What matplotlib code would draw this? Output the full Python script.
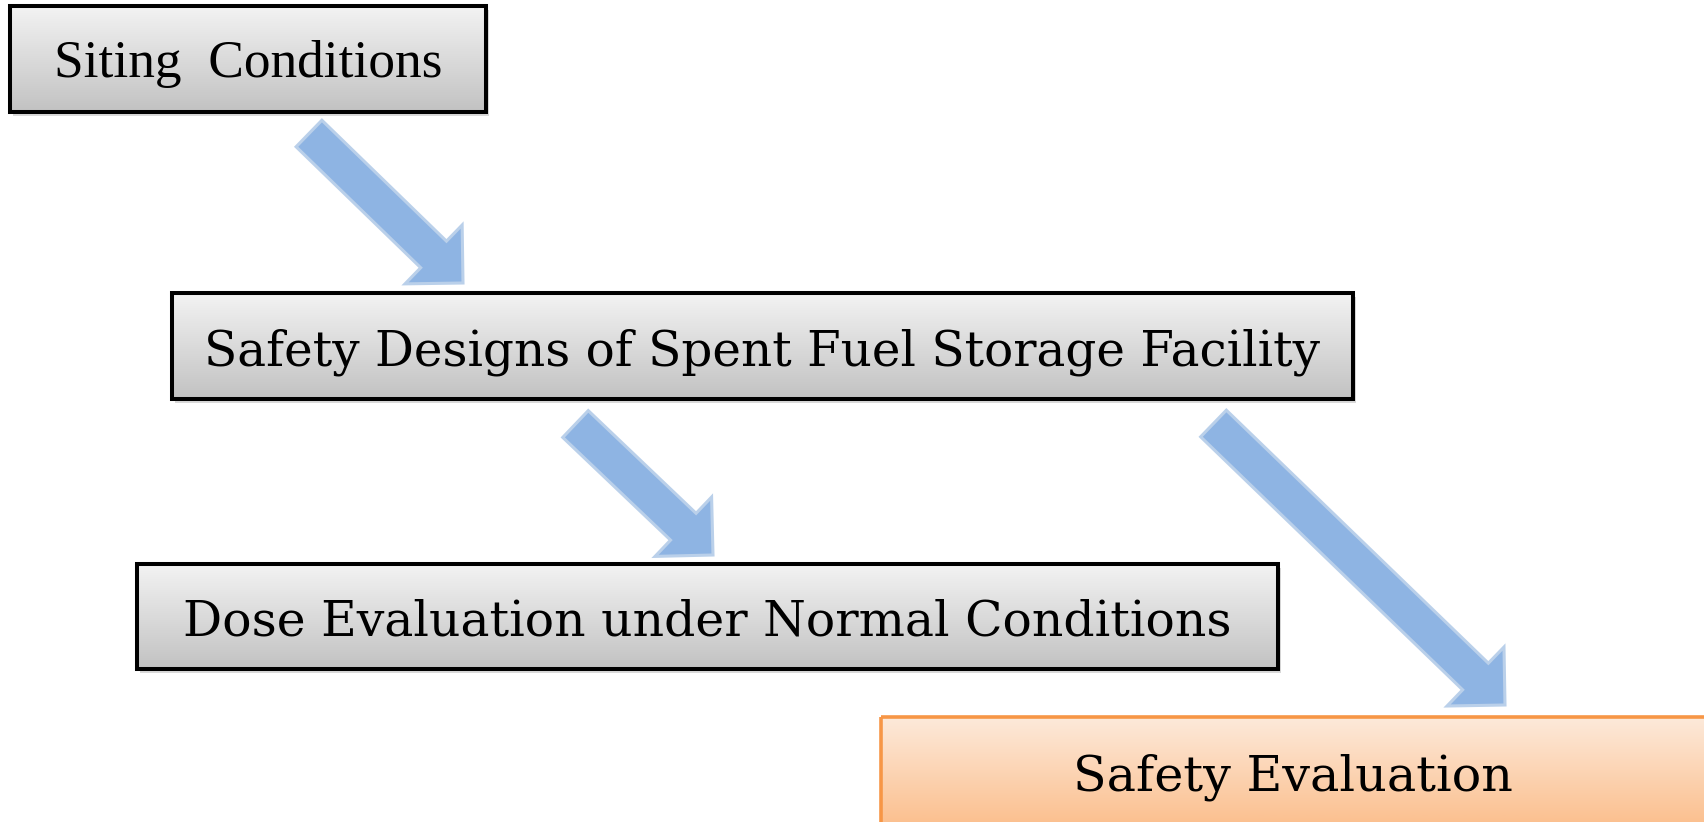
import matplotlib
matplotlib.use("Agg")
import matplotlib.pyplot as plt
import numpy as np
from matplotlib.patches import Rectangle, FancyArrow
from matplotlib.colors import LinearSegmentedColormap

# ---- content ----
labels = ["Siting  Conditions",
          "Safety Designs of Spent Fuel Storage Facility",
          "Dose Evaluation under Normal Conditions",
          "Safety Evaluation"]
label_fonts = ["Liberation Serif", "DejaVu Serif", "DejaVu Serif", "DejaVu Serif"]
# box geometry in pixel units (x0, y0, x1, y1), y grows downward
box_x0 = [10, 172, 137, 881]
box_y0 = [6, 293, 564, 717]
box_x1 = [486, 1353, 1278, 1706]
box_y1 = [112, 399, 669, 831]
box_style = ["gray", "gray", "gray", "orange"]
text_width = [388, 1116, 1050, 440]
text_cy = [64, 352, 622, 777]

# arrows: tail midpoint -> tip
arrow_x0 = [309, 575.5, 1213.5]
arrow_y0 = [133.5, 424, 423.5]
arrow_x1 = [463, 713, 1505]
arrow_y1 = [283, 555, 705]

W, H = 1704, 822
fig = plt.figure(figsize=(W / 100, H / 100), dpi=100)
ax = fig.add_axes([0, 0, 1, 1])
ax.set_xlim(0, W)
ax.set_ylim(H, 0)
ax.axis("off")

styles = {
    "gray": dict(top="#f3f3f3", bottom="#c2c2c2", edge="#000000", lw=2.9),
    "orange": dict(top="#fdeadb", bottom="#fbbd8a", edge="#f79646", lw=2.6),
}

for i in range(len(labels)):
    x0, y0, x1, y1 = box_x0[i], box_y0[i], box_x1[i], box_y1[i]
    st = styles[box_style[i]]
    # shadow
    ax.add_patch(Rectangle((x0 + 3, y0 + 4), x1 - x0, y1 - y0,
                           facecolor="#000000", alpha=0.15, edgecolor="none", zorder=1))
    cmap = LinearSegmentedColormap.from_list("g", [st["top"], st["bottom"]])
    grad = np.linspace(0, 1, 256).reshape(-1, 1)
    rect = Rectangle((x0, y0), x1 - x0, y1 - y0, facecolor="none",
                     edgecolor=st["edge"], linewidth=st["lw"], zorder=3)
    ax.add_patch(rect)
    im = ax.imshow(grad, cmap=cmap, extent=(x0, x1, y1, y0), aspect="auto",
                   zorder=2, interpolation="bilinear")
    im.set_clip_path(rect)

# arrows
for i in range(len(arrow_x0)):
    dx = arrow_x1[i] - arrow_x0[i]
    dy = arrow_y1[i] - arrow_y0[i]
    ar = FancyArrow(arrow_x0[i], arrow_y0[i], dx, dy, width=37, head_width=82,
                    head_length=41, length_includes_head=True,
                    facecolor="#8eb4e3", edgecolor="#bad0ea", linewidth=2.2, zorder=4)
    ax.add_patch(ar)

ax.set_xlim(0, W)
ax.set_ylim(H, 0)

# text, scaled to target width
fig.canvas.draw()
renderer = fig.canvas.get_renderer()
for i in range(len(labels)):
    cx = (box_x0[i] + box_x1[i]) / 2
    if i == 3:
        cx = 1293
    t = ax.text(cx, text_cy[i], labels[i], fontsize=30, family=label_fonts[i],
                ha="center", va="center", color="black", zorder=5)
    bb = t.get_window_extent(renderer)
    t.set_fontsize(30 * text_width[i] / bb.width)

fig.savefig("out.png", dpi=100)
